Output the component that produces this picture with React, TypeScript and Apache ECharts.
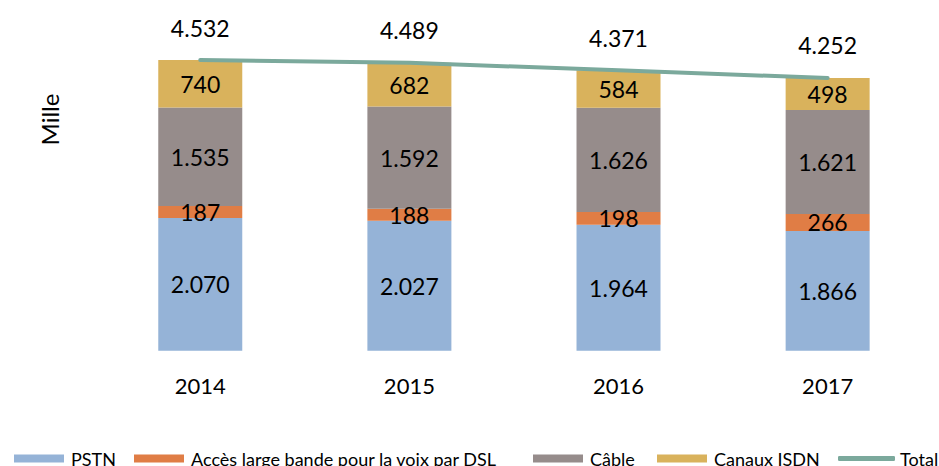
import React, { useEffect, useRef } from "react";
import * as echarts from "echarts";

const categories = ["2014", "2015", "2016", "2017"];
const pstn = [2070, 2027, 1964, 1866];
const dsl = [187, 188, 198, 266];
const cable = [1535, 1592, 1626, 1621];
const isdn = [740, 682, 584, 498];
const total = [4532, 4489, 4371, 4252];

const names = ["PSTN", "Accès large bande pour la voix par DSL", "Câble", "Canaux ISDN", "Total"];
const colors = ["#95B3D7", "#E07D45", "#968C8B", "#D9B25C", "#7BA99C"];

const fmt = (v: number) => String(v).replace(/\B(?=(\d{3})+(?!\d))/g, ".");
const FONT = "Lato";

export default function App() {
  const ref = useRef<HTMLDivElement>(null);
  useEffect(() => {
    if (!ref.current) return;
    const chart = echarts.init(ref.current, null, { renderer: "svg" });
    const barLabel = {
      show: true,
      position: "inside" as const,
      color: "#000",
      fontFamily: FONT,
      fontSize: 23,
      formatter: (p: any) => fmt(p.value),
    };
    const legendPos = [9, 129, 528, 652, 833];
    const legends = names.map((n, i) => ({
      data: [n],
      left: legendPos[i],
      top: 444,
      itemWidth: i === 4 ? 57 : 50,
      itemHeight: i === 4 ? 5 : 8,
      itemGap: 0,
      icon: i === 4 ? "roundRect" : "rect",
      textStyle: {
        fontFamily: FONT,
        fontSize: 18,
        color: "#000",
        lineHeight: 19,
        padding: [0, 0, 0, i === 4 ? 0 : 2],
      },
    }));
    const series: any[] = [pstn, dsl, cable, isdn].map((d, i) => ({
      name: names[i],
      type: "bar",
      stack: "s",
      data: d,
      barWidth: 84,
      itemStyle: { color: colors[i] },
      label: barLabel,
    }));
    series.push({
      name: names[4],
      type: "line",
      data: total,
      symbol: "circle",
      symbolSize: 0,
      showSymbol: true,
      z: 5,
      itemStyle: { color: colors[4] },
      lineStyle: { color: colors[4], width: 4, cap: "round" },
      label: {
        show: true,
        position: "top",
        distance: 21,
        color: "#000",
        fontFamily: FONT,
        fontSize: 23,
        formatter: (p: any) => fmt(p.value),
      },
    });
    chart.setOption({
      animation: false,
      backgroundColor: "#fff",
      grid: { left: 95.7, right: 6.8, top: 30, bottom: 115.3 },
      legend: legends,
      xAxis: {
        type: "category",
        data: categories,
        axisLine: { show: false },
        axisTick: { show: false },
        axisLabel: { color: "#000", fontFamily: FONT, fontSize: 22, margin: 24 },
      },
      yAxis: {
        type: "value",
        min: 0,
        max: 5000,
        show: false,
        splitLine: { show: false },
      },
      graphic: [
        {
          type: "text",
          x: 49,
          y: 119.5,
          rotation: Math.PI / 2,
          style: {
            text: "Mille",
            fontFamily: FONT,
            fontSize: 24,
            fill: "#000",
            align: "center",
            verticalAlign: "middle",
          },
        },
      ],
      series,
    });
    return () => chart.dispose();
  }, []);
  return (
    <div
      ref={ref}
      style={{ position: "fixed", left: 0, top: 0, width: 939, height: 466, overflow: "hidden" }}
    />
  );
}
